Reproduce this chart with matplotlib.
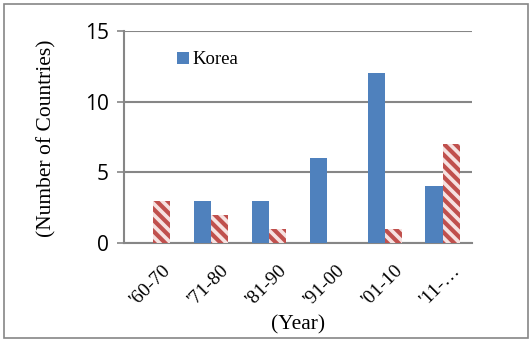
import matplotlib
matplotlib.use("Agg")
import matplotlib.pyplot as plt
import numpy as np
from matplotlib.patches import Rectangle

periods = ["'60-70", "'71-80", "'81-90", "'91-00", "'01-10", "'11-\u2026"]
korea = [0, 3, 3, 6, 12, 4]
others = [3, 2, 1, 0, 1, 7]
yticks = [0, 5, 10, 15]

blue = "#4F81BD"
red = "#C0504D"
gray = "#868686"
serif = "Liberation Serif"
sans = "Open Sans"

plt.rcParams["hatch.linewidth"] = 3.0

fig = plt.figure(figsize=(5.32, 3.42), dpi=100)
fig.patches.append(Rectangle((0.008, 0.012), 0.984, 0.976, transform=fig.transFigure,
                             fill=False, edgecolor=gray, linewidth=1.2))

ax = fig.add_axes([0.233, 0.2895, 0.654, 0.62])
x = np.arange(len(periods))
w = 0.3
ax.bar(x - w / 2, korea, w, color=blue, label="Korea", zorder=3)
ax.bar(x + w / 2, others, w, facecolor="#F6E2E1", edgecolor=red, hatch="\\\\\\",
       linewidth=0, zorder=3)

ax.set_xlim(-0.5, len(periods) - 0.5)
ax.set_ylim(0, 15)
ax.set_yticks(yticks)
ax.set_yticklabels([str(t) for t in yticks], fontfamily=sans, fontsize=15)
ax.yaxis.grid(True, color=gray, linewidth=1.5, zorder=0)
ax.set_axisbelow(True)

ax.tick_params(axis="y", length=5, color=gray, width=1.2, pad=6)
ax.set_xticks(x)
ax.set_xticklabels([])
ax.tick_params(axis="x", length=0)

# slanted category labels, top-right corner just right of each category centre
xt = ax.get_xaxis_transform()
for xi, name in zip(x, periods):
    ax.text(xi + 0.15, -0.09, name, transform=xt, rotation=45, rotation_mode="anchor",
            ha="right", va="top", fontfamily=serif, fontsize=14)

for side in ("top", "right"):
    ax.spines[side].set_visible(False)
for side in ("left", "bottom"):
    ax.spines[side].set_color(gray)
    ax.spines[side].set_linewidth(1.5)

fig.text(47 / 532, 1 - 138 / 342, "(Number of Countries)", rotation=90,
         ha="center", va="center", fontfamily=serif, fontsize=15.5)
fig.text(298 / 532, 1 - 325 / 342, "(Year)", ha="center", va="center",
         fontfamily=serif, fontsize=15.5)

leg = ax.legend(loc="upper left", bbox_to_anchor=(0.132, 0.94), frameon=False,
                prop={"family": serif, "size": 13.5}, handlelength=0.6, handleheight=0.6,
                handletextpad=0.2, borderaxespad=0)

fig.savefig("out.png", dpi=100)
